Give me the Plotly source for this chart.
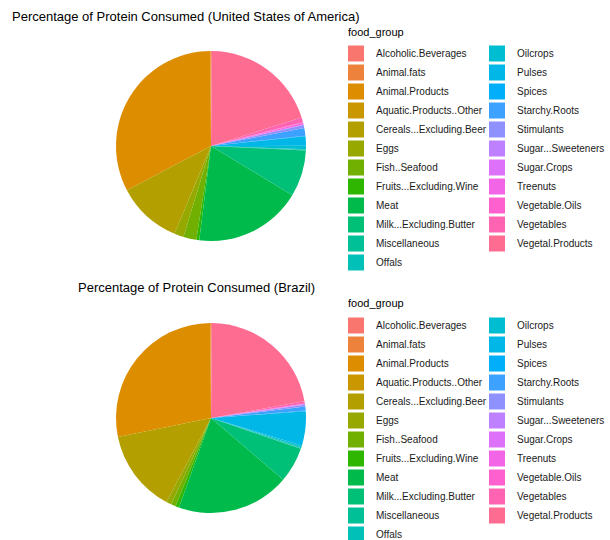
import math
import plotly.graph_objects as go

food_groups = [
    "Alcoholic.Beverages", "Animal.fats", "Animal.Products", "Aquatic.Products..Other",
    "Cereals...Excluding.Beer", "Eggs", "Fish..Seafood", "Fruits...Excluding.Wine",
    "Meat", "Milk...Excluding.Butter", "Miscellaneous", "Offals",
    "Oilcrops", "Pulses", "Spices", "Starchy.Roots", "Stimulants",
    "Sugar...Sweeteners", "Sugar.Crops", "Treenuts", "Vegetable.Oils",
    "Vegetables", "Vegetal.Products",
]

usa_pct = [0.15, 0.1, 32.6, 0.0, 11.0, 1.6, 2.2, 0.5, 18.3, 7.9, 0.1, 0.1,
           0.6, 1.6, 0.1, 1.3, 0.5, 0.1, 0.0, 0.3, 0.1, 0.8, 20.0]

brazil_pct = [0.15, 0.1, 28.1, 0.0, 14.0, 0.9, 0.8, 0.6, 19.2, 6.0, 0.1, 0.2,
              0.3, 5.8, 0.1, 0.7, 0.3, 0.1, 0.0, 0.1, 0.0, 0.4, 22.0]

usa_title = "Percentage of Protein Consumed (United States of America)"
brazil_title = "Percentage of Protein Consumed (Brazil)"
legend_title = "food_group"


def hcl_hex(h, c, l):
    """grDevices::hcl (polar Luv, D65) -> hex, like ggplot2's hue_pal."""
    Xn, Yn, Zn = 95.047, 100.0, 108.883
    hr = math.radians(h)
    U, V = c * math.cos(hr), c * math.sin(hr)
    Y = Yn * (((l + 16) / 116) ** 3 if l > 7.999592 else l / 903.3)
    t = Xn + Yn + Zn
    x, y = Xn / t, Yn / t
    uN = 2 * x / (6 * y - x + 1.5)
    vN = 4.5 * y / (6 * y - x + 1.5)
    u = U / (13 * l) + uN
    v = V / (13 * l) + vN
    X = 9.0 * Y * u / (4 * v)
    Z = -X / 3 - 5 * Y + 3 * Y / v

    def g(q):
        q = q / Yn
        q = 1.055 * q ** (1 / 2.4) - 0.055 if q > 0.00304 else 12.92 * q
        return max(0, min(255, round(255 * q)))

    r = g(3.240479 * X - 1.537150 * Y - 0.498535 * Z)
    gg = g(-0.969256 * X + 1.875992 * Y + 0.041556 * Z)
    b = g(0.055648 * X - 0.204043 * Y + 1.057311 * Z)
    return "#%02X%02X%02X" % (r, gg, b)


n = len(food_groups)
colors = [hcl_hex(15 + 360 * i / n, 100, 65) for i in range(n)]

W, H = 610, 540
FONT = "Liberation Sans, Arial, sans-serif"


def px_x(v):
    return v / W


def px_y(v):
    return 1 - v / H


fig = go.Figure()

# pies (ggplot coord_polar style: start at 12 o'clock, first level just counter-clockwise)
pies = [
    (usa_pct, (116, 306), (51, 241)),
    (brazil_pct, (116, 306), (323, 513)),
]
for vals, (x0, x1), (y0, y1) in pies:
    fig.add_trace(go.Pie(
        labels=food_groups, values=vals, sort=False, direction="counterclockwise",
        rotation=0, textinfo="none", hoverinfo="label+percent",
        marker=dict(colors=colors, line=dict(width=0)),
        domain=dict(x=[px_x(x0), px_x(x1)], y=[px_y(y1), px_y(y0)]),
        showlegend=False,
    ))

# legends: two columns per chart
half = 12
for li, lg in enumerate(["legend", "legend2", "legend3", "legend4"]):
    col = li % 2
    idx = range(0, half) if col == 0 else range(half, n)
    for i in idx:
        fig.add_trace(go.Scatter(
            x=[None], y=[None], mode="markers", name=food_groups[i],
            marker=dict(symbol="square", size=16, color=colors[i], line=dict(width=0)),
            legend=lg, showlegend=True, hoverinfo="skip",
        ))

leg_common = dict(
    xanchor="left", yanchor="top", bgcolor="rgba(0,0,0,0)", borderwidth=0,
    font=dict(family=FONT, size=10, color="#1a1a1a"), tracegroupgap=0,
    itemclick=False, itemdoubleclick=False,
)
title_font = dict(family=FONT, size=11, color="#000000")
main_font = dict(family=FONT, size=13, color="#000000")


def ann(text, x, y, font):
    return dict(text=text, x=px_x(x), y=px_y(y), xref="paper", yref="paper",
                xanchor="left", yanchor="middle", showarrow=False, font=font)


fig.update_layout(
    width=W, height=H,
    margin=dict(l=0, r=0, t=0, b=0, autoexpand=False),
    paper_bgcolor="white", plot_bgcolor="white",
    font=dict(family=FONT),
    xaxis=dict(visible=False), yaxis=dict(visible=False),
    legend=dict(x=px_x(336), y=px_y(39), **leg_common),
    legend2=dict(x=px_x(477), y=px_y(39), **leg_common),
    legend3=dict(x=px_x(336), y=px_y(311), **leg_common),
    legend4=dict(x=px_x(477), y=px_y(311), **leg_common),
    annotations=[
        ann(usa_title, 10, 17, main_font),
        ann(brazil_title, 76, 287, main_font),
        ann(legend_title, 346, 32, title_font),
        ann(legend_title, 346, 303, title_font),
    ],
)

fig.write_html(
    "out.html",
    config={"displayModeBar": False},
    post_script="document.body.style.margin='0';document.body.style.overflow='hidden';",
)
